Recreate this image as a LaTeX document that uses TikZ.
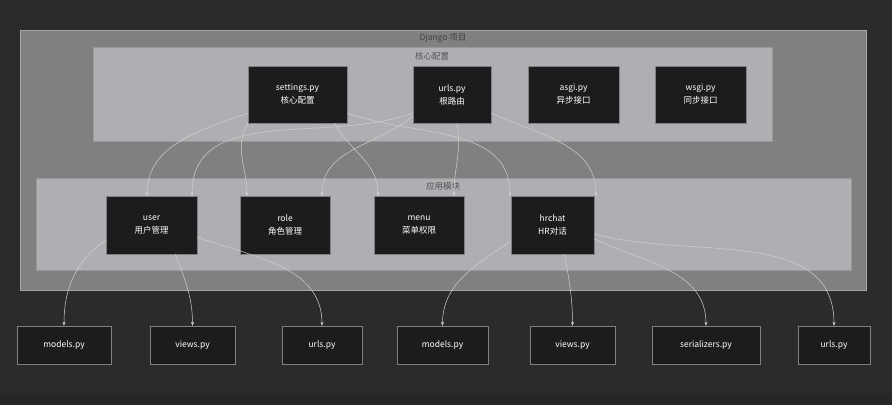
\documentclass[tikz,border=0pt]{standalone}
\usepackage{fontspec}
\setmainfont{Noto Sans CJK SC}
\usetikzlibrary{arrows.meta,positioning}
\definecolor{bgdark}{HTML}{2B2B2B}
\definecolor{outergray}{HTML}{808080}
\definecolor{innergray}{HTML}{ADAFB2}
\definecolor{nodedark}{HTML}{1C1C1E}
\definecolor{linegray}{HTML}{D0D0D0}
\tikzset{
  file/.style={draw=outergray, fill=nodedark, text=white, font=\fontsize{8.5}{13}\selectfont, align=center, inner sep=0pt},
  group/.style={draw=gray!80, fill=innergray},
  title/.style={text=gray!20!black, font=\fontsize{8.5}{10}\selectfont, opacity=0.6},
  link/.style={draw=linegray, line width=0.5pt, -{Stealth[length=4pt,width=3pt]}}
}
\begin{document}
\begin{tikzpicture}[x=1pt,y=-1pt]
  \fill[bgdark] (0,0) rectangle (892,405);
  \fill[black!85] (0,393) rectangle (892,405);
  \draw[fill=outergray, draw=gray!70] (20,30) rectangle (866,290);
  \node[title] (tproj) at (443,38) {Django 项目};
  \draw[group] (93,47) rectangle (772,141);
  \node[title] (tcore) at (432,56) {核心配置};
  \draw[group] (36,178) rectangle (851,270);
  \node[title] (tapp) at (443,186) {应用模块};

  % core files
  \node[file, minimum width=99pt, minimum height=57pt] (settings) at (297.5,94.5) {settings.py\\核心配置};
  \node[file, minimum width=78pt, minimum height=57pt] (urls) at (452,94.5) {urls.py\\根路由};
  \node[file, minimum width=91pt, minimum height=57pt] (asgi) at (573.5,94.5) {asgi.py\\异步接口};
  \node[file, minimum width=91pt, minimum height=57pt] (wsgi) at (700.5,94.5) {wsgi.py\\同步接口};

  % apps
  \node[file, minimum width=91pt, minimum height=58pt] (user) at (151.5,225) {user\\用户管理};
  \node[file, minimum width=90pt, minimum height=58pt] (role) at (285,225) {role\\角色管理};
  \node[file, minimum width=90pt, minimum height=58pt] (menu) at (419,225) {menu\\菜单权限};
  \node[file, minimum width=83pt, minimum height=58pt] (hrchat) at (552.5,225) {hrchat\\HR对话};

  % app files
  \node[file, minimum width=94pt, minimum height=38pt] (umodels) at (64,345) {models.py};
  \node[file, minimum width=85pt, minimum height=38pt] (uviews) at (192.5,345) {views.py};
  \node[file, minimum width=80pt, minimum height=38pt] (uurls) at (322,345) {urls.py};
  \node[file, minimum width=91pt, minimum height=38pt] (hmodels) at (442.5,345) {models.py};
  \node[file, minimum width=85pt, minimum height=38pt] (hviews) at (572.5,345) {views.py};
  \node[file, minimum width=108pt, minimum height=38pt] (hserial) at (706,345) {serializers.py};
  \node[file, minimum width=72pt, minimum height=38pt] (hurls) at (834,345) {urls.py};

  \path[link] (settings.west |- 0,113) to[out=200,in=90] (147,196);
  \path[link] (settings.south west) to[out=-120,in=90] (247,196);
  \path[link] (settings.south east) ++(-13,0) to[out=-60,in=90] (378,196);
  \path[link] (settings.east |- 0,113) to[out=-20,in=90] (510,196);
  \path[link] (urls.west |- 0,113) to[out=200,in=90] (192,196);
  \path[link] (urls.west |- 0,116) to[out=220,in=90] (322,196);
  \path[link] (urls.south) ++(5,0) to[out=-80,in=90] (454,196);
  \path[link] (urls.east |- 0,113) to[out=-25,in=90] (596,196);

  \path[link] (user.west |- 0,240) to[out=215,in=90] (umodels.north);
  \path[link] (user.south) ++(24,0) to[out=-70,in=90] (uviews.north);
  \path[link] (user.east |- 0,237) to[out=-20,in=90] (uurls.north);
  \path[link] (hrchat.west |- 0,241) to[out=215,in=90] (hmodels.north);
  \path[link] (hrchat.south) ++(12,0) to[out=-80,in=90] (hviews.north);
  \path[link] (hrchat.east |- 0,239) to[out=-25,in=90] (hserial.north);
  \path[link] (hrchat.east |- 0,234) to[out=-15,in=90] (hurls.north);
\end{tikzpicture}
\end{document}
